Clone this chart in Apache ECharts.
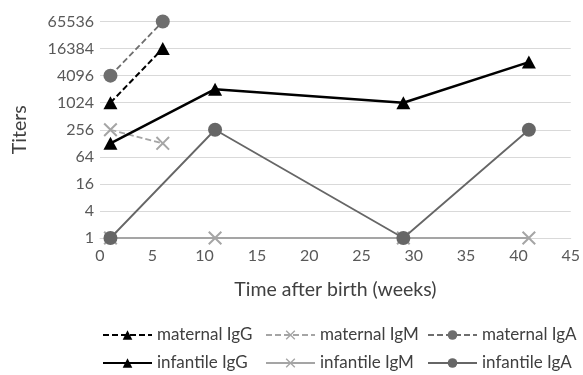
<!DOCTYPE html>
<html><head><meta charset="utf-8">
<script src="https://cdn.jsdelivr.net/npm/echarts@6/dist/echarts.min.js"></script>
<style>html,body{margin:0;padding:0;background:#fff}#c{width:583px;height:375px}</style>
</head><body><div id="c"></div>
<script>
const xMaternal = [1, 6];
const maternalIgG = [1024, 16384];
const maternalIgM = [256, 128];
const maternalIgA = [4096, 65536];
const xInfant = [1, 11, 29, 41];
const infantileIgG = [128, 2048, 1024, 8192];
const infantileIgM = [1, 1, 1, 1];
const infantileIgA = [1, 256, 1, 256];
const seriesNames = ['maternal IgG', 'maternal IgM', 'maternal IgA', 'infantile IgG', 'infantile IgM', 'infantile IgA'];

const FONT = 'Lato, "Open Sans", sans-serif';
const X_PATH = 'path://M0,1 L1,0 L5,4 L9,0 L10,1 L6,5 L10,9 L9,10 L5,6 L1,10 L0,9 L4,5 Z';
const pair = (xs, ys) => xs.map((x, i) => [x, ys[i]]);

const styles = [
  {color: '#000000', dash: [6, 3], width: 2, symbol: 'triangle', size: [14, 13]},
  {color: '#a5a5a5', dash: [6, 3], width: 1.8, symbol: X_PATH, size: 14},
  {color: '#6e6e6e', dash: [6, 3], width: 1.8, symbol: 'circle', size: 14},
  {color: '#000000', dash: 'solid', width: 2.5, symbol: 'triangle', size: [14, 13]},
  {color: '#a5a5a5', dash: 'solid', width: 2, symbol: X_PATH, size: 14},
  {color: '#666666', dash: 'solid', width: 1.8, symbol: 'circle', size: 14}
];
const datas = [pair(xMaternal, maternalIgG), pair(xMaternal, maternalIgM), pair(xMaternal, maternalIgA),
  pair(xInfant, infantileIgG), pair(xInfant, infantileIgM), pair(xInfant, infantileIgA)];

const series = seriesNames.map((n, i) => ({
  name: n, type: 'line', data: datas[i], symbol: styles[i].symbol, symbolSize: styles[i].size,
  showAllSymbol: true, clip: false,
  lineStyle: {color: styles[i].color, width: styles[i].width, type: styles[i].dash},
  itemStyle: {color: styles[i].color},
  z: 2 + i
}));

const legendCols = [102, 265, 427];
const legendRows = [325, 353];
const legends = seriesNames.map((n, i) => ({
  data: [n], left: legendCols[i % 3], top: legendRows[Math.floor(i / 3)],
  itemWidth: 49, itemHeight: 12, itemGap: 4, padding: 0,
  textStyle: {fontFamily: FONT, fontSize: 17, color: '#404040', lineHeight: 20}
}));

const chart = echarts.init(document.getElementById('c'), null, {renderer: 'canvas'});
chart.setOption({
  animation: false,
  backgroundColor: '#fff',
  grid: {left: 100, right: 11, top: 21.5, bottom: 137, containLabel: false},
  legend: legends,
  xAxis: {
    type: 'value', min: 0, max: 45, interval: 5,
    name: 'Time after birth (weeks)', nameLocation: 'middle', nameGap: 42,
    nameTextStyle: {fontFamily: FONT, fontSize: 19.5, color: '#404040'},
    axisLine: {show: true, lineStyle: {color: '#d9d9d9'}},
    axisTick: {show: false},
    splitLine: {show: false},
    axisLabel: {fontFamily: FONT, fontSize: 16, color: '#595959', margin: 10}
  },
  yAxis: {
    type: 'log', logBase: 4, min: 1, max: 65536, interval: 1,
    name: 'Titers', nameLocation: 'middle', nameGap: 70, nameRotate: 90,
    nameTextStyle: {fontFamily: FONT, fontSize: 19.5, color: '#404040'},
    axisLine: {show: false}, axisTick: {show: false},
    splitLine: {show: true, lineStyle: {color: '#d9d9d9', width: 1}},
    axisLabel: {fontFamily: FONT, fontSize: 16, color: '#595959', margin: 6,
      formatter: v => String(Math.round(v))}
  },
  series: series
});
</script></body></html>
